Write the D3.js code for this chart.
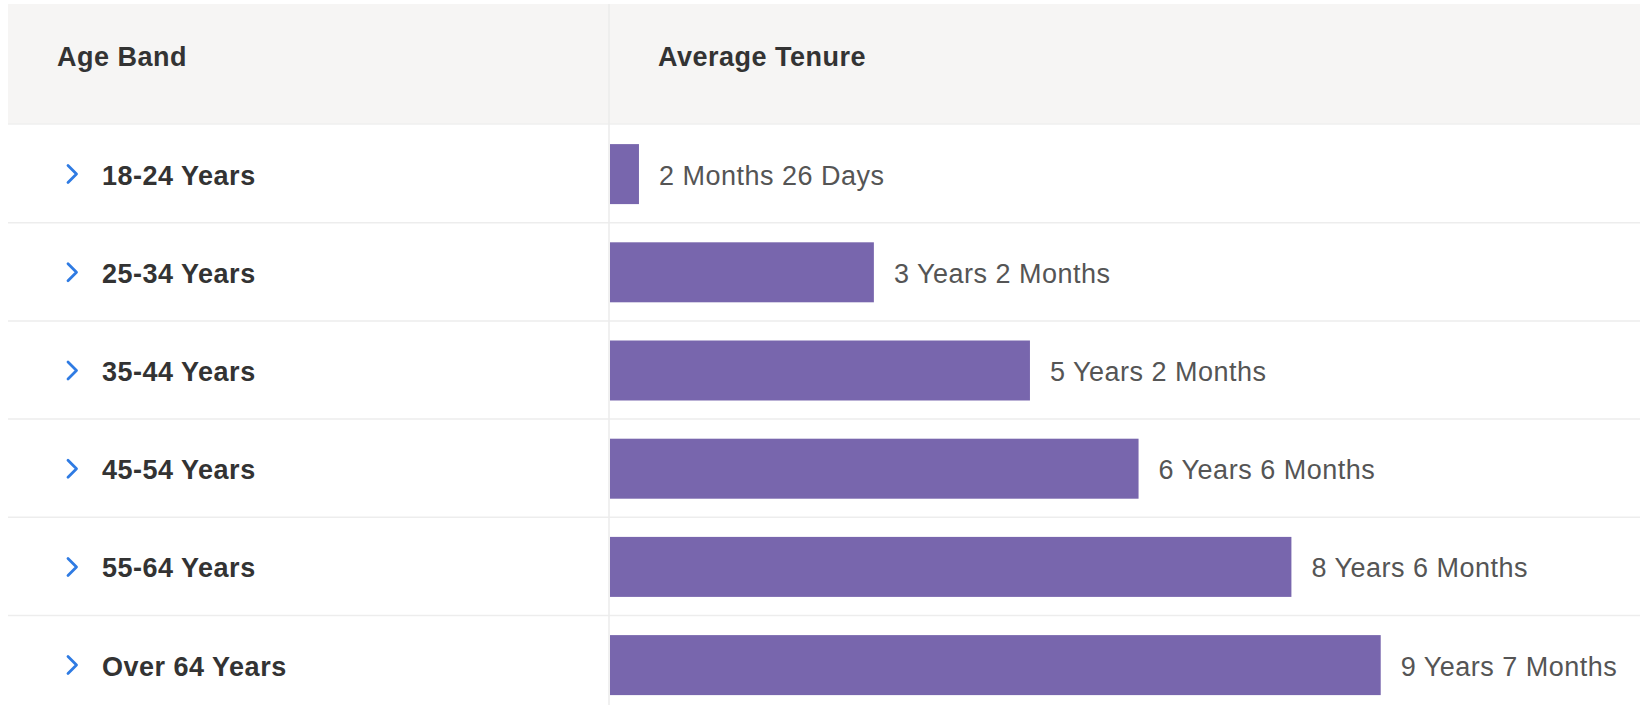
<!DOCTYPE html>
<html>
<head>
<meta charset="utf-8">
<script src="https://cdn.jsdelivr.net/npm/d3@7"></script>
<style>
  html, body { margin: 0; padding: 0; background: #ffffff; }
  svg { display: block; }
</style>
</head>
<body>
<div id="chart"></div>
<script>
// ---- data ----
const categories = ["18-24 Years", "25-34 Years", "35-44 Years", "45-54 Years", "55-64 Years", "Over 64 Years"];
const tenureYears = [0.36, 3.28, 5.22, 6.57, 8.47, 9.58];
const tenureLabels = ["2 Months 26 Days", "3 Years 2 Months", "5 Years 2 Months", "6 Years 6 Months", "8 Years 6 Months", "9 Years 7 Months"];
const headers = ["Age Band", "Average Tenure"];

// ---- layout ----
const W = 1640, H = 705;
const tableLeft = 8, headerTop = 4, headerBottom = 124, rowsTop = 125;
const dividerX = 609;
const rowStep = 98.2;
const FONT = "'Liberation Sans', Arial, Helvetica, sans-serif";
const FS = 27, LS = "0.5px";

const svg = d3.select("#chart").append("svg")
  .attr("width", W).attr("height", H);

const y = d3.scaleBand()
  .domain(categories)
  .range([rowsTop, rowsTop + rowStep * categories.length])
  .paddingInner(0.389)
  .paddingOuter(0.1945);

const x = d3.scaleLinear().domain([0, 10]).range([dividerX + 1, dividerX + 1 + 804.5]);

// header background
svg.append("rect")
  .attr("x", tableLeft).attr("y", headerTop)
  .attr("width", W - tableLeft).attr("height", headerBottom - headerTop)
  .attr("fill", "#f6f5f4");

// row separators
svg.append("g").selectAll("line")
  .data(categories)
  .join("line")
  .attr("x1", tableLeft).attr("x2", W)
  .attr("y1", (d, i) => rowsTop + (i + 1) * rowStep - 0.5)
  .attr("y2", (d, i) => rowsTop + (i + 1) * rowStep - 0.5)
  .attr("stroke", "#ededed").attr("stroke-width", 1.5);

svg.append("line")
  .attr("x1", tableLeft).attr("x2", W)
  .attr("y1", headerBottom).attr("y2", headerBottom)
  .attr("stroke", "#efefef").attr("stroke-width", 1.5);

// vertical divider
svg.append("line")
  .attr("x1", dividerX).attr("x2", dividerX)
  .attr("y1", headerTop).attr("y2", H)
  .attr("stroke", "#ebebeb").attr("stroke-width", 1.5);

// headers
svg.append("text")
  .attr("x", 57).attr("y", 57).attr("dy", "0.35em")
  .attr("font-family", FONT).attr("font-weight", "bold").attr("font-size", FS)
  .attr("letter-spacing", LS)
  .attr("fill", "#333333")
  .text(headers[0]);
svg.append("text")
  .attr("x", 658).attr("y", 57).attr("dy", "0.35em")
  .attr("font-family", FONT).attr("font-weight", "bold").attr("font-size", FS)
  .attr("letter-spacing", LS)
  .attr("fill", "#333333")
  .text(headers[1]);

const rows = svg.append("g").selectAll("g")
  .data(categories)
  .join("g")
  .attr("transform", d => `translate(0,${y(d) + y.bandwidth() / 2})`);

// chevrons
rows.append("path")
  .attr("d", "M68,-8.5 L76.5,0 L68,8.5")
  .attr("fill", "none")
  .attr("stroke", "#2f7be3")
  .attr("stroke-width", 2.8)
  .attr("stroke-linecap", "round")
  .attr("stroke-linejoin", "round");

// row labels
rows.append("text")
  .attr("x", 102).attr("y", 1).attr("dy", "0.35em")
  .attr("font-family", FONT).attr("font-weight", "bold").attr("font-size", FS)
  .attr("letter-spacing", LS)
  .attr("fill", "#333333")
  .text(d => d);

// bars
rows.append("rect")
  .attr("x", x(0))
  .attr("y", -y.bandwidth() / 2)
  .attr("width", (d, i) => x(tenureYears[i]) - x(0))
  .attr("height", y.bandwidth())
  .attr("fill", "#7866ad");

// value labels
rows.append("text")
  .attr("x", (d, i) => x(tenureYears[i]) + 20)
  .attr("y", 1).attr("dy", "0.35em")
  .attr("font-family", FONT).attr("font-size", FS)
  .attr("letter-spacing", LS)
  .attr("fill", "#555555")
  .text((d, i) => tenureLabels[i]);
</script>
</body>
</html>
